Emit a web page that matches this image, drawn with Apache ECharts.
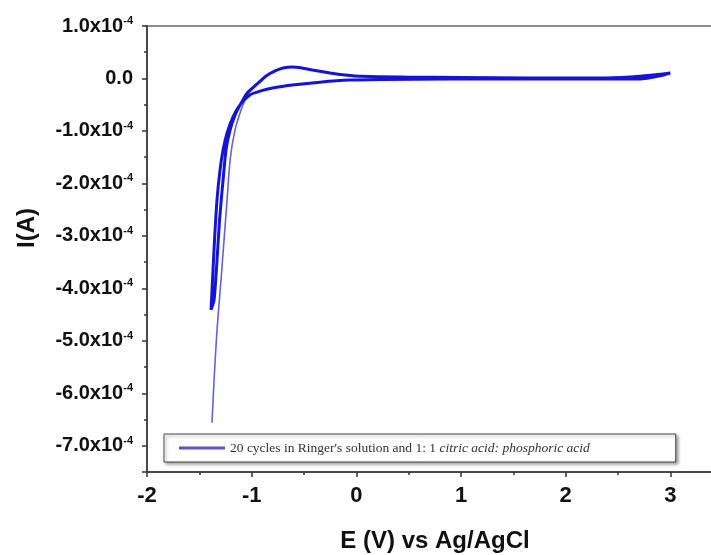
<!DOCTYPE html>
<html><head><meta charset="utf-8">
<script src="https://cdn.jsdelivr.net/npm/echarts@6/dist/echarts.min.js"></script>
<style>html,body{margin:0;padding:0;background:#fff}#c{width:711px;height:555px}</style>
</head><body><div id="c"></div>
<script>
// ---- data ----
const legendName = "20 cycles in Ringer's solution and 1: 1 citric acid: phosphoric acid";
const xTickValues = [-2, -1, 0, 1, 2, 3];
// cycles 2-20 (thick band): reverse scan from +3 V down to the cathodic limit, then forward scan back to +3 V
const cyclesE = [3.00, 2.90, 2.71, 1.95, 0.90, 0.23, -0.06, -0.35, -0.59, -0.80, -0.92, -1.015, -1.11, -1.178, -1.235, -1.273, -1.302, -1.331, -1.355, -1.374, -1.388,
  -1.359, -1.331, -1.307, -1.273, -1.245, -1.206, -1.159, -1.101, -1.044, -0.948, -0.862, -0.776, -0.70, -0.614, -0.518, -0.42, -0.25, -0.107, 0.05, 0.5, 1.0, 1.66, 2.33, 2.62, 2.81, 3.00];
const cyclesI = [1.05e-5, 5e-6, -1e-6, -1e-6, -1e-6, -2e-6, -3e-6, -7e-6, -1.2e-5, -1.8e-5, -2.4e-5, -3.1e-5, -5.0e-5, -7.3e-5, -1.04e-4, -1.36e-4, -1.74e-4, -2.31e-4, -3.08e-4, -3.84e-4, -4.41e-4,
  -4.22e-4, -3.46e-4, -2.70e-4, -1.93e-4, -1.36e-4, -9.8e-5, -7.0e-5, -4.7e-5, -2.8e-5, -1.05e-5, 4.8e-6, 1.43e-5, 2.0e-5, 2.19e-5, 2.0e-5, 1.62e-5, 1.05e-5, 6.7e-6, 4e-6, 2.5e-6, 2e-6, 1e-6, 1e-6, 3e-6, 6e-6, 1.05e-5];
// first cycle (thin, lighter line reaching the deepest cathodic current)
const firstE = [-1.379, -1.359, -1.331, -1.293, -1.264, -1.235, -1.206, -1.159, -1.101, -1.044, -0.95];
const firstI = [-6.56e-4, -5.74e-4, -4.79e-4, -3.84e-4, -3.08e-4, -2.31e-4, -1.55e-4, -9.8e-5, -6.0e-5, -3.2e-5, -1.2e-5];

const pair = (xs, ys) => xs.map((x, i) => [x, ys[i]]);
const FONT = "'Liberation Sans', Arial, sans-serif";

const chart = echarts.init(document.getElementById('c'), null, {renderer: 'canvas'});
chart.setOption({
  animation: false,
  backgroundColor: '#ffffff',
  grid: {left: 147, top: 26, width: 628, height: 446, outerBoundsMode: 'none', containLabel: false,
         show: true, borderColor: '#8c8c8c', borderWidth: 2, backgroundColor: 'transparent'},
  legend: {
    left: 164, top: 434, orient: 'horizontal',
    padding: [7, 86, 7, 15],
    borderColor: '#444', borderWidth: 1, backgroundColor: '#fff',
    shadowColor: 'rgba(0,0,0,0.35)', shadowBlur: 3, shadowOffsetX: 2, shadowOffsetY: 2,
    itemWidth: 46, itemHeight: 3, icon: 'rect', itemGap: 5,
    data: [{name: legendName, itemStyle: {color: '#5656cc'}}],
    formatter: () => "{n|20 cycles in Ringer's solution and 1: 1 }{i|citric acid: phosphoric acid}",
    textStyle: {
      rich: {
        n: {fontFamily: "'Liberation Serif', serif", fontSize: 13.5, lineHeight: 17, color: '#333'},
        i: {fontFamily: "'Liberation Serif', serif", fontSize: 13.5, lineHeight: 17, color: '#333', fontStyle: 'italic'}
      }
    }
  },
  xAxis: {
    type: 'value', min: xTickValues[0], max: 4, interval: 1,
    axisLine: {show: true, onZero: false, lineStyle: {color: '#333', width: 1.5}},
    axisTick: {show: true, length: 5, lineStyle: {color: '#333', width: 1.5}},
    minorTick: {show: true, splitNumber: 2, length: 3, lineStyle: {color: '#333', width: 1.5}},
    splitLine: {show: false},
    axisLabel: {showMaxLabel: false, margin: 13, color: '#111', fontFamily: FONT, fontWeight: 'bold', fontSize: 22},
    name: 'E (V) vs Ag/AgCl', nameLocation: 'middle', nameGap: 57,
    nameTextStyle: {color: '#111', fontFamily: FONT, fontWeight: 'bold', fontSize: 24, padding: [0, 52, 0, 0]}
  },
  yAxis: {
    type: 'value', min: -7.5e-4, max: 1e-4, splitNumber: 8,
    axisLine: {show: true, onZero: false, lineStyle: {color: '#333', width: 1.5}},
    axisTick: {show: true, length: 5, lineStyle: {color: '#333', width: 1.5}},
    minorTick: {show: true, splitNumber: 2, length: 3, lineStyle: {color: '#333', width: 1.5}},
    splitLine: {show: false},
    axisLabel: {
      showMinLabel: false, margin: 14,
      formatter: v => Math.abs(v) < 1e-12 ? '{b|0.0}' : '{b|' + (v * 1e4).toFixed(1) + 'x10}{s|-4}',
      rich: {
        b: {fontFamily: FONT, fontWeight: 'bold', fontSize: 20, color: '#111'},
        s: {fontFamily: FONT, fontWeight: 'bold', fontSize: 11, color: '#111', verticalAlign: 'bottom', padding: [0, 0, 10, 0]}
      }
    },
    name: 'I(A)', nameLocation: 'middle', nameGap: 108, nameRotate: 90,
    nameTextStyle: {color: '#111', fontFamily: FONT, fontWeight: 'bold', fontSize: 24, padding: [0, 0, 0, 42]}
  },
  series: [
    {name: legendName, type: 'line', data: pair(cyclesE, cyclesI), showSymbol: false, symbol: 'none', smooth: 0.2,
     lineStyle: {color: '#1414d8', width: 3}, itemStyle: {color: '#1414d8'}, clip: true, z: 3},
    {name: 'first cycle', type: 'line', data: pair(firstE, firstI), showSymbol: false, symbol: 'none', smooth: 0.2,
     lineStyle: {color: '#6464d0', width: 1.6}, itemStyle: {color: '#6464d0'}, clip: true, z: 2}
  ]
});
</script></body></html>
